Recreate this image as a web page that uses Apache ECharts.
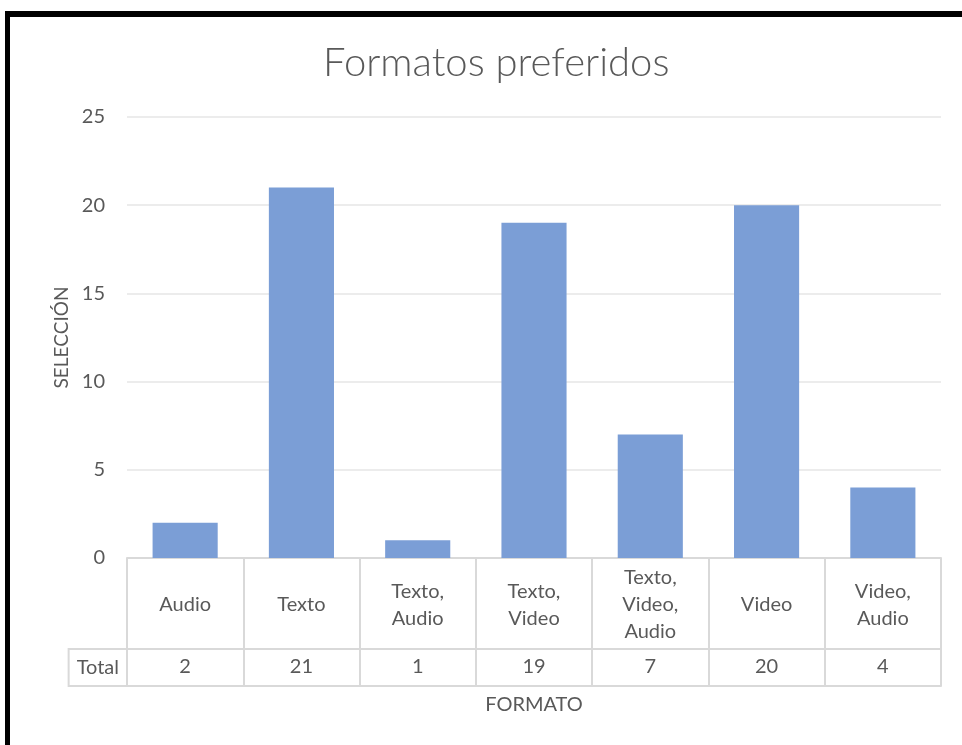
<!DOCTYPE html>
<html>
<head>
<meta charset="utf-8">
<script src="https://cdn.jsdelivr.net/npm/echarts@6/dist/echarts.min.js"></script>
<style>html,body{margin:0;padding:0;background:#fff;}#c{width:962px;height:745px;}</style>
</head>
<body>
<div id="c"></div>
<script>
var categories = ['Audio', 'Texto', 'Texto,\nAudio', 'Texto,\nVideo', 'Texto,\nVideo,\nAudio', 'Video', 'Video,\nAudio'];
var totals = [2, 21, 1, 19, 7, 20, 4];
var yMin = 0, yMax = 25, yStep = 5;
var titleText = 'Formatos preferidos';
var yName = 'SELECCIÓN';
var xName = 'FORMATO';
var rowName = 'Total';

var FONT = 'Lato, Carlito, "Open Sans", sans-serif';
var TXT = '#595959';
var LINE = '#d9d9d9';

var chart = echarts.init(document.getElementById('c'), null, {renderer: 'canvas'});
chart.setOption({
  animation: false,
  backgroundColor: '#fff',
  title: {
    text: titleText, left: 318, top: 38,
    textStyle: {fontFamily: FONT, fontSize: 40, fontWeight: 300, color: TXT}
  },
  graphic: [
    {type: 'rect', shape: {x: 5, y: 11, width: 957, height: 6}, style: {fill: '#000'}},
    {type: 'rect', shape: {x: 5, y: 11, width: 5, height: 734}, style: {fill: '#000'}}
  ],
  grid: {left: 127, right: 21, top: 117, bottom: 187, containLabel: false},
  xAxis: [
    {
      type: 'category', data: categories, position: 'bottom',
      axisLine: {show: true, lineStyle: {color: LINE, width: 2}},
      axisTick: {show: true, length: 128, interval: 0, lineStyle: {color: LINE, width: 2}},
      axisLabel: {interval: 0, margin: 47, verticalAlign: 'middle', fontFamily: FONT, fontSize: 20, color: TXT, lineHeight: 27}
    },
    {
      type: 'category', data: totals.map(String), position: 'bottom', offset: 91,
      axisLine: {show: true, lineStyle: {color: LINE, width: 2}},
      axisTick: {show: false},
      axisLabel: {interval: 0, margin: 18, verticalAlign: 'middle', fontFamily: FONT, fontSize: 20, color: TXT},
      name: rowName, nameLocation: 'start', nameGap: 0,
      nameTextStyle: {fontFamily: FONT, fontSize: 20, color: TXT, verticalAlign: 'top', align: 'right',
        padding: [8, 8, 8, 8], lineHeight: 21, borderColor: LINE, borderWidth: 2}
    },
    {
      type: 'category', data: categories, position: 'bottom', offset: 128,
      axisLine: {show: true, lineStyle: {color: LINE, width: 2}},
      axisTick: {show: false}, axisLabel: {show: false},
      name: xName, nameLocation: 'middle', nameGap: 19,
      nameTextStyle: {fontFamily: FONT, fontSize: 20, color: TXT, verticalAlign: 'middle'}
    }
  ],
  yAxis: {
    type: 'value', min: yMin, max: yMax, interval: yStep,
    axisLine: {show: false}, axisTick: {show: false},
    axisLabel: {margin: 22, fontFamily: FONT, fontSize: 20, color: TXT},
    splitLine: {lineStyle: {color: '#ececec', width: 2}},
    name: yName, nameLocation: 'middle', nameGap: 56, nameRotate: 90,
    nameTextStyle: {fontFamily: FONT, fontSize: 19, color: TXT}
  },
  series: [{
    type: 'bar', xAxisIndex: 0, data: totals, barWidth: '56%',
    itemStyle: {color: '#7b9ed6'}
  }]
});
</script>
</body>
</html>
